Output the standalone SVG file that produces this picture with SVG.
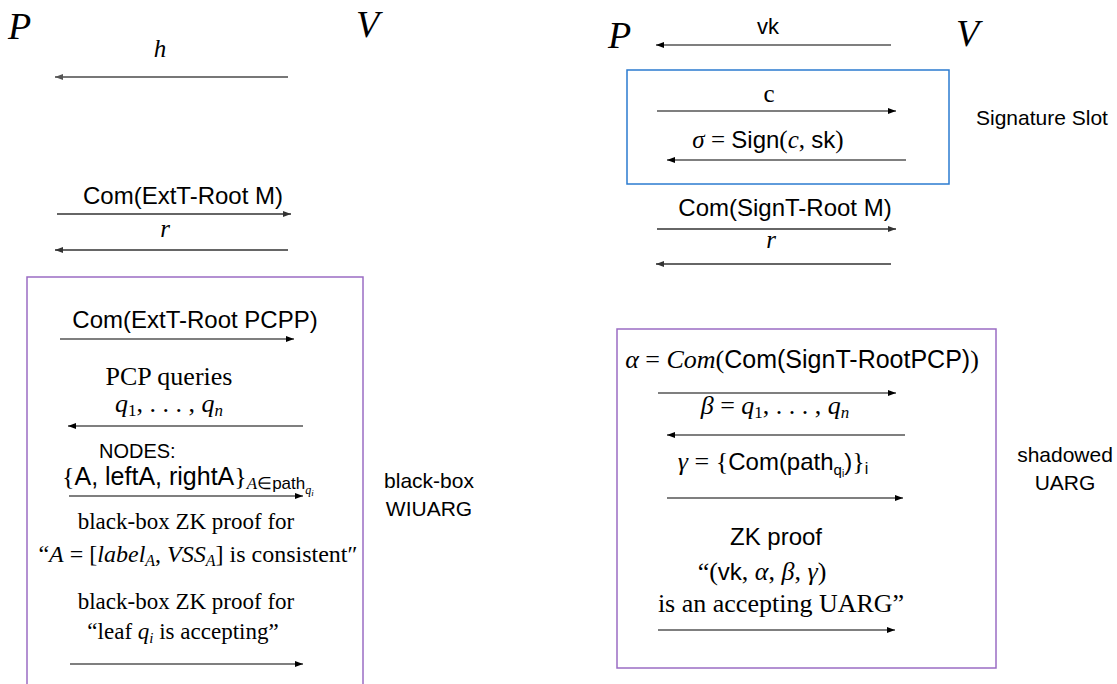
<svg xmlns="http://www.w3.org/2000/svg" width="1117" height="684" viewBox="0 0 1117 684">
<defs>
<marker id="ah" viewBox="0 0 8 6" refX="8" refY="3" markerWidth="8" markerHeight="6" markerUnits="userSpaceOnUse" orient="auto"><path d="M0,0 L8,3 L0,6 z" fill="#000"/></marker>
<marker id="ahd" viewBox="0 0 8 6" refX="8" refY="3" markerWidth="8" markerHeight="6" markerUnits="userSpaceOnUse" orient="auto"><path d="M0,0 L8,3 L0,6 z" fill="#333"/></marker>
<marker id="ahg" viewBox="0 0 8 6" refX="8" refY="3" markerWidth="8" markerHeight="6" markerUnits="userSpaceOnUse" orient="auto"><path d="M0,0 L8,3 L0,6 z" fill="#555"/></marker>
</defs>
<style>
text{fill:#000}
.sans{font-family:"Liberation Sans",Arial,sans-serif}
.serif{font-family:"Liberation Serif","Times New Roman",serif}
.it{font-style:italic}
.cal{font-family:"Liberation Serif","Times New Roman",serif;font-style:italic;font-size:38px}
.ln{stroke:#000;stroke-width:1.2;fill:none;marker-end:url(#ah)}
.ld{stroke:#333;stroke-width:1.6;fill:none;marker-end:url(#ahd)}
.lg{stroke:#777;stroke-width:2;fill:none;marker-end:url(#ahg)}
.boxp{fill:none;stroke:#9a6cc4;stroke-width:1.5}
.boxb{fill:none;stroke:#2b7bd0;stroke-width:1.5}
.side{font-family:"Liberation Sans",Arial,sans-serif;font-size:21px}
</style>

<!-- Left protocol -->
<g id="left-parties">
<text class="cal" x="8" y="39">P</text>
<text class="cal" x="356" y="37">V</text>
</g>
<g id="left-wiuarg-box">
<rect class="boxp" x="27" y="277" width="336" height="420"/>
</g>
<g id="left-labels">
<text class="serif it" font-size="25" x="160" y="57" text-anchor="middle">h</text>
<text class="sans" font-size="24" x="183" y="204" text-anchor="middle">Com(ExtT-Root M)</text>
<text class="serif it" font-size="25" x="165" y="237" text-anchor="middle">r</text>
<text class="sans" font-size="24" x="195" y="328" text-anchor="middle">Com(ExtT-Root PCPP)</text>
<text class="serif" font-size="26" x="169" y="385" text-anchor="middle">PCP queries</text>
<text class="serif" font-size="26" x="169" y="412" text-anchor="middle"><tspan class="it">q</tspan><tspan font-size="17" dy="4">1</tspan><tspan dy="-4">, . . . , </tspan><tspan class="it">q</tspan><tspan class="it" font-size="17" dy="4">n</tspan></text>
<text class="sans" font-size="20" x="99" y="458">NODES:</text>
<text class="serif" font-size="26" x="62" y="485">{<tspan class="sans" font-size="25">A, leftA, rightA</tspan>}<tspan class="it" font-size="17" dy="4">A</tspan><tspan font-size="17">∈</tspan><tspan class="sans" font-size="17">path</tspan><tspan class="it" font-size="12" dy="5">q</tspan><tspan class="it" font-size="9" dy="2">i</tspan></text>
<text class="serif" font-size="23" x="186" y="529" text-anchor="middle">black-box ZK proof for</text>
<text class="serif" font-size="24" x="198" y="562" text-anchor="middle">“<tspan class="it">A</tspan> = [<tspan class="it">label</tspan><tspan class="it" font-size="16" dy="4">A</tspan><tspan dy="-4">, </tspan><tspan class="it">VSS</tspan><tspan class="it" font-size="16" dy="4">A</tspan><tspan dy="-4">] is consistent″</tspan></text>
<text class="serif" font-size="23" x="186" y="609" text-anchor="middle">black-box ZK proof for</text>
<text class="serif" font-size="23" x="183" y="639" text-anchor="middle">“leaf <tspan class="it">q</tspan><tspan class="it" font-size="15" dy="4">i</tspan><tspan dy="-4"> is accepting”</tspan></text>
<text class="side" x="429" y="488" text-anchor="middle">black-box</text>
<text class="side" x="429" y="516" text-anchor="middle">WIUARG</text>
</g>

<!-- Right protocol -->
<g id="right-parties">
<text class="cal" x="608" y="48">P</text>
<text class="cal" x="956" y="46">V</text>
</g>
<g id="signature-slot-box">
<rect class="boxb" x="627" y="70" width="322" height="114"/>
</g>
<g id="shadowed-uarg-box">
<rect class="boxp" x="617" y="329" width="379" height="339"/>
</g>
<g id="right-labels">
<text class="sans" font-size="22" x="768" y="34" text-anchor="middle">vk</text>
<text class="serif" font-size="25" x="769" y="102" text-anchor="middle">c</text>
<text class="serif" font-size="25" x="768" y="148" text-anchor="middle"><tspan class="it">σ</tspan> = <tspan class="sans" font-size="24">Sign</tspan>(<tspan class="it">c</tspan>, <tspan class="sans" font-size="24">sk</tspan>)</text>
<text class="side" x="976" y="125">Signature Slot</text>
<text class="sans" font-size="24" x="785" y="216" text-anchor="middle">Com(SignT-Root M)</text>
<text class="serif it" font-size="25" x="771" y="248" text-anchor="middle">r</text>
<text class="serif" font-size="26" x="802" y="368" text-anchor="middle"><tspan class="it">α</tspan> = <tspan class="it">Com</tspan>(<tspan class="sans" font-size="25">Com(SignT-RootPCP)</tspan>)</text>
<text class="serif" font-size="26" x="775" y="414" text-anchor="middle"><tspan class="it">β</tspan> = <tspan class="it">q</tspan><tspan font-size="17" dy="4">1</tspan><tspan dy="-4">, . . . , </tspan><tspan class="it">q</tspan><tspan class="it" font-size="17" dy="4">n</tspan></text>
<text class="serif" font-size="26" x="773" y="470" text-anchor="middle"><tspan class="it">γ</tspan> = {<tspan class="sans" font-size="24">Com(path</tspan><tspan class="sans" font-size="15" dy="5">q</tspan><tspan class="sans" font-size="10" dy="2">i</tspan><tspan class="sans" font-size="24" dy="-7">)</tspan>}<tspan class="sans" font-size="16" dy="4">i</tspan></text>
<text class="sans" font-size="24" x="776" y="545" text-anchor="middle">ZK proof</text>
<text class="serif" font-size="26" x="762" y="580" text-anchor="middle">“(<tspan class="sans" font-size="24">vk</tspan>, <tspan class="it">α</tspan>, <tspan class="it">β</tspan>, <tspan class="it">γ</tspan>)</text>
<text class="serif" font-size="26" x="781" y="612" text-anchor="middle">is an accepting UARG”</text>
<text class="side" x="1065" y="462" text-anchor="middle">shadowed</text>
<text class="side" x="1065" y="490" text-anchor="middle">UARG</text>
</g>

<g id="connectors">
<line class="lg" x1="288" y1="77" x2="55" y2="77"/>
<line class="ld" x1="57" y1="214" x2="291" y2="214"/>
<line class="ld" x1="288" y1="250" x2="55" y2="250"/>
<line class="ln" x1="60" y1="339" x2="294" y2="339"/>
<line class="ln" x1="303" y1="426" x2="68" y2="426"/>
<line class="ln" x1="69" y1="496" x2="303" y2="496"/>
<line class="ln" x1="70" y1="664" x2="303" y2="664"/>

<line class="ln" x1="891" y1="45" x2="656" y2="45"/>
<line class="ln" x1="657" y1="111" x2="896" y2="111"/>
<line class="ln" x1="906" y1="160" x2="667" y2="160"/>
<line class="ld" x1="657" y1="229" x2="896" y2="229"/>
<line class="ld" x1="891" y1="264" x2="656" y2="264"/>
<line class="ln" x1="658" y1="393" x2="896" y2="393"/>
<line class="ln" x1="905" y1="435" x2="667" y2="435"/>
<line class="ln" x1="667" y1="498" x2="903" y2="498"/>
<line class="ln" x1="658" y1="630" x2="895" y2="630"/>
</g>
</svg>
